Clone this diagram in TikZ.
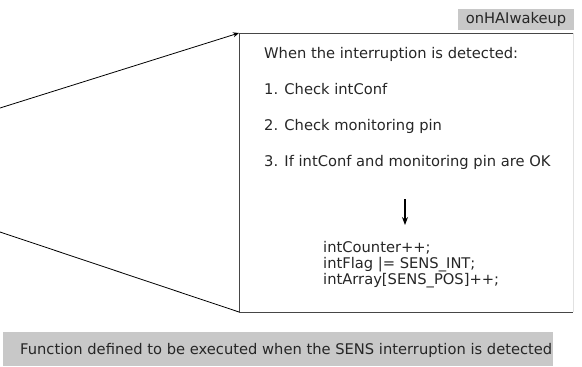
\documentclass[tikz,border=0pt]{standalone}
\usepackage{fontspec}
\setmainfont{DejaVu Sans}
\usetikzlibrary{arrows.meta}
\definecolor{labelgray}{RGB}{200,200,200}
\definecolor{edgegray}{RGB}{70,70,70}
\definecolor{faintgray}{RGB}{225,225,225}
\begin{document}
\begin{tikzpicture}[x=1pt,y=-1pt,
  txt/.style={inner sep=0pt,anchor=west,font=\fontsize{14.7}{16}\selectfont,text=black!85},
  tag/.style={fill=labelgray,inner sep=0pt,font=\fontsize{14.7}{16}\selectfont,text=black!85},
  edge/.style={draw=edgegray,line width=1pt}]
\useasboundingbox (0,0) rectangle (582,367);
% the function box
\coordinate (tl) at (239,33);
\coordinate (bl) at (239,312);
\coordinate (tr) at (573,33);
\coordinate (br) at (573,312);
\draw[faintgray,line width=1pt] (tr) -- (br);
\draw[edge] (tr) -- (tl) -- (bl) -- (br);
% zoom lines from the left
\coordinate (ua) at (0,108);
\coordinate (la) at (0,232);
\draw[line width=0.8pt,-{Stealth[length=6pt,width=5pt]}] (ua) -- (tl);
\draw[line width=0.8pt] (la) -- (bl);
% function name tag
\node[tag,minimum width=116pt,minimum height=21pt] (name) at (516,19) {onHAIwakeup};
% box contents
\node[txt] (t0) at (264,54) {When the interruption is detected:};
\node[txt] (t1) at (264,89) {1. Check intConf};
\node[txt] (t2) at (264,126) {2. Check monitoring pin};
\node[txt] (t3) at (264,162) {3. If intConf and monitoring pin are OK};
\coordinate (a1) at (405,199);
\coordinate (a2) at (405,225);
\draw[line width=1.2pt,-{Stealth[length=8pt,width=6pt]}] (a1) -- (a2);
\node[txt,align=left,font=\fontsize{14.7}{16}\selectfont] (code) at (323,265) {intCounter++;\\intFlag |= SENS\_INT;\\intArray[SENS\_POS]++;};
% caption
\node[tag,minimum width=550pt,minimum height=34pt] (cap) at (278,349) {};
\node[txt] (captxt) at (20,350) {Function defined to be executed when the SENS interruption is detected};
\end{tikzpicture}
\end{document}
